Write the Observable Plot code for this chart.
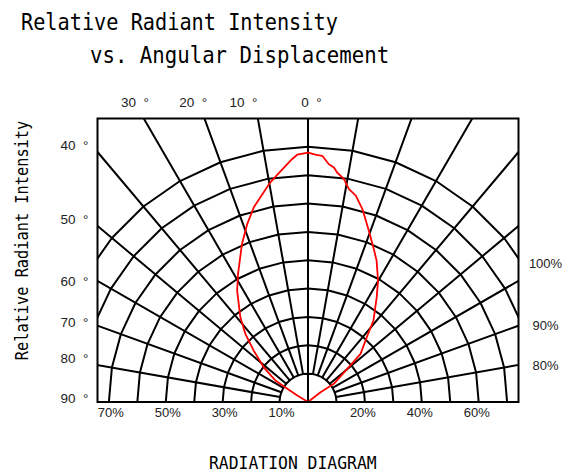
<!DOCTYPE html>
<html><head><meta charset="utf-8">
<script src="https://cdn.jsdelivr.net/npm/d3@7"></script>
<script src="https://cdn.jsdelivr.net/npm/@observablehq/plot@0.6"></script>
<style>
body{margin:0;background:#fff;width:564px;height:474px;position:relative;overflow:hidden}
#chart{position:absolute;left:0;top:80px}
.mono{position:absolute;font-family:"DejaVu Sans Mono",monospace;line-height:1;white-space:nowrap;color:#000;transform-origin:0 0}
</style></head><body>
<div id="chart"></div>
<div class="mono" style="left:20.7px;top:10.5px;font-size:23px;transform:scaleX(0.88)">Relative Radiant Intensity</div>
<div class="mono" style="left:89.8px;top:43.5px;font-size:23px;transform:scaleX(0.9)">vs. Angular Displacement</div>
<div class="mono" style="left:-128.3px;top:231.5px;width:300px;text-align:center;font-size:17px;transform-origin:50% 50%;transform:rotate(-90deg) scaleX(0.9)">Relative Radiant Intensity</div>
<div class="mono" style="left:208.8px;top:454.1px;font-size:18px;transform:scaleX(0.91)">RADIATION DIAGRAM</div>
<script>
// grid rings (percent of radius) and spokes (degrees from axis)
const rings = [10, 20, 30, 40, 50, 60, 70, 80, 90];
const spokeAngles = [-80, -70, -60, -50, -40, -30, -20, -10, 0, 10, 20, 30, 40, 50, 60, 70, 80];

// radiation pattern: angle (deg), relative intensity (grid %)
const beamAngle = [0, -59, -57, -56.5, -51.8, -46.5, -42.5, -38.5, -32.4, -28.6, -22.6, -18.8, -15.5, -11.6, -9.7, -7.5, -5.4, -3.7, -2.5, 0, 1.7, 3.3, 5.0, 6.3, 7.2, 9.1, 10.8, 13.0, 15.7, 19.5, 23.2, 25.8, 29.9, 33.2, 38.7, 41.7, 47.4, 49.7, 54.8, 51.9, 0];
const beamIntensity = [0, 4.4, 10.2, 13.7, 19.8, 26.3, 32.6, 38.2, 46.5, 51.4, 60.4, 66.3, 71.3, 76.0, 78.6, 81.1, 83.7, 85.9, 87.3, 88.0, 87.3, 87.0, 84.2, 83.2, 81.6, 79.7, 76.5, 74.7, 70.7, 64.1, 58.7, 55.4, 49.4, 44.1, 36.8, 31.4, 25.1, 18.1, 11.1, 5.6, 0];

// tick labels
const leftTickLabels = ["40", "50", "60", "70", "80", "90"];
const leftTickPos = [90.5, 64.4, 42.5, 28.0, 15.3, 1.2];
const topTickLabels = ["30", "20", "10", "0"];
const topTickPos = [-60.8, -40.4, -22.7, 1.2];
const bottomTicks = [-70, -50, -30, -10, 20, 40, 60];
const rightTickLabels = ["100%", "90%", "80%"];
const rightTickPos = [48.8, 27.0, 12.9];

const deg = Math.PI / 180;
const degLabel = d => d + "\u00a0\u00a0°";
const ringData = rings.flatMap(r => d3.range(-90, 91, 10).map(a => ({ring: r, x: r * Math.sin(a * deg), y: r * Math.cos(a * deg)})));
const spokeData = spokeAngles.flatMap(a => [a === 0 ? 0 : 10, 200].map(r => ({a, x: r * Math.sin(a * deg), y: r * Math.cos(a * deg)})));
const beam = beamAngle.map((a, i) => ({x: beamIntensity[i] * Math.sin(a * deg), y: beamIntensity[i] * Math.cos(a * deg)}));

const chart = Plot.plot({
  width: 564, height: 350,
  marginLeft: 97, marginRight: 46, marginTop: 38, marginBottom: 28.5,
  x: {domain: [-74, 74], axis: null},
  y: {domain: [0, 100], axis: null},
  style: {fontFamily: "'Liberation Sans', Arial, sans-serif", fontSize: "13px", background: "transparent", overflow: "visible", color: "black"},
  marks: [
    Plot.line(ringData, {x: "x", y: "y", z: "ring", stroke: "black", strokeWidth: 2, clip: true}),
    Plot.line(spokeData, {x: "x", y: "y", z: "a", stroke: "black", strokeWidth: 2, clip: true}),
    Plot.line(beam, {x: "x", y: "y", stroke: "#ff0000", strokeWidth: 1.8, clip: true}),
    Plot.frame({stroke: "black", strokeWidth: 2}),
    Plot.text(leftTickLabels, {x: () => -74, y: (d, i) => leftTickPos[i], text: degLabel, textAnchor: "end", dx: -9, fill: "#222", fontSize: 13.5}),
    Plot.text(topTickLabels, {x: (d, i) => topTickPos[i], y: () => 100, text: degLabel, dy: -16, fill: "#222", fontSize: 13.5}),
    Plot.text(bottomTicks, {x: d => d + (d < 0 ? 0.7 : -0.7), y: () => 0, text: d => `${Math.abs(d)}%`, dy: 10.5, fill: "#222"}),
    Plot.text(rightTickLabels, {x: () => 74, y: (d, i) => rightTickPos[i], text: d => d, dx: 27, fill: "#222"})
  ]
});
document.getElementById("chart").append(chart);
</script>
</body></html>
